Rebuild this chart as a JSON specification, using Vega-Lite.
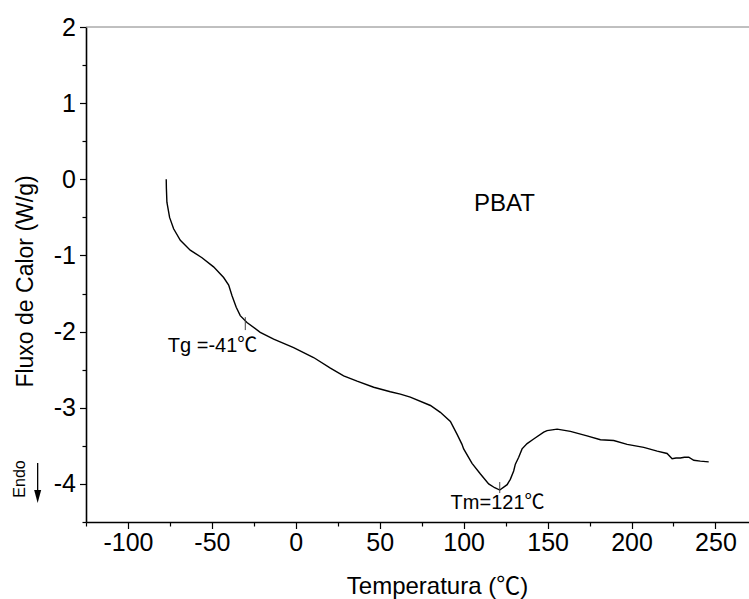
{
  "$schema": "https://vega.github.io/schema/vega-lite/v6.json",
  "width": 663,
  "height": 495,
  "autosize": {"type": "none"},
  "padding": {"left": 86, "top": 27, "right": 0, "bottom": 77},
  "background": "white",
  "config": {"view": {"stroke": null}},
  "resolve": {"axis": {"y": "independent"}},
  "datasets": {
    "curve": [
      {"T": -77.2, "v": 0.0}, {"T": -77.1, "v": -0.12}, {"T": -76.8, "v": -0.3}, {"T": -75.2, "v": -0.5},
      {"T": -72.8, "v": -0.65}, {"T": -68.8, "v": -0.8}, {"T": -62.9, "v": -0.93}, {"T": -55.9, "v": -1.03},
      {"T": -49.0, "v": -1.15}, {"T": -43.0, "v": -1.29}, {"T": -40.0, "v": -1.39}, {"T": -38.0, "v": -1.53},
      {"T": -35.5, "v": -1.68}, {"T": -33.1, "v": -1.79}, {"T": -29.1, "v": -1.88}, {"T": -21.2, "v": -2.01},
      {"T": -13.2, "v": -2.1}, {"T": -1.3, "v": -2.21}, {"T": 10.6, "v": -2.34}, {"T": 20.6, "v": -2.48},
      {"T": 28.5, "v": -2.58}, {"T": 36.5, "v": -2.65}, {"T": 46.4, "v": -2.73}, {"T": 56.3, "v": -2.79},
      {"T": 62.3, "v": -2.82}, {"T": 68.2, "v": -2.86}, {"T": 80.2, "v": -2.97}, {"T": 86.1, "v": -3.06},
      {"T": 92.1, "v": -3.18}, {"T": 96.1, "v": -3.35}, {"T": 99.0, "v": -3.48}, {"T": 100.0, "v": -3.54},
      {"T": 105.0, "v": -3.73}, {"T": 110.0, "v": -3.87}, {"T": 114.9, "v": -4.0}, {"T": 118.5, "v": -4.05},
      {"T": 121.5, "v": -4.08}, {"T": 125.9, "v": -4.01}, {"T": 127.8, "v": -3.94}, {"T": 129.8, "v": -3.83},
      {"T": 130.8, "v": -3.74}, {"T": 132.8, "v": -3.65}, {"T": 134.8, "v": -3.54}, {"T": 137.8, "v": -3.47},
      {"T": 141.7, "v": -3.41}, {"T": 147.7, "v": -3.32}, {"T": 149.7, "v": -3.3}, {"T": 155.7, "v": -3.28},
      {"T": 163.6, "v": -3.31}, {"T": 173.5, "v": -3.37}, {"T": 181.5, "v": -3.42}, {"T": 189.4, "v": -3.43},
      {"T": 197.4, "v": -3.48}, {"T": 207.3, "v": -3.52}, {"T": 215.3, "v": -3.57}, {"T": 221.2, "v": -3.6},
      {"T": 224.2, "v": -3.67}, {"T": 226.5, "v": -3.66}, {"T": 229.1, "v": -3.66}, {"T": 231.5, "v": -3.65},
      {"T": 234.1, "v": -3.65}, {"T": 237.1, "v": -3.69}, {"T": 241.0, "v": -3.7}, {"T": 246.0, "v": -3.71}
    ],
    "markers": [
      {"T": -30.1, "v": -1.81, "v2": -1.98},
      {"T": 121.5, "v": -3.975, "v2": -4.12}
    ],
    "labels": [
      {"T": -49.6, "v": -2.268, "text": "Tg =-41℃"},
      {"T": 120.2, "v": -4.329, "text": "Tm=121℃"}
    ],
    "title": [{"T": 124.3, "v": -0.416, "text": "PBAT"}],
    "endo": [{"T": -161.2, "v": -3.935, "text": "Endo"}],
    "arrow": [{"T": -153.8, "v": -3.725, "v2": -4.1}],
    "head": [{"T": -153.8, "v": -4.165}],
    "frame": [{"v": 2}]
  },
  "layer": [
    {
      "data": {"name": "curve"},
      "mark": {"type": "line", "color": "black", "strokeWidth": 1.4},
      "encoding": {
        "x": {
          "field": "T", "type": "quantitative",
          "scale": {"domain": [-125, 270], "nice": false, "zero": false},
          "axis": {
            "title": "Temperatura (℃)",
            "titleFont": "Liberation Sans, Noto Sans CJK SC",
            "titleFontSize": 24, "titleFontWeight": "normal", "titleColor": "black",
            "titleX": 351, "titleY": 71, "titleBaseline": "alphabetic", "titleAnchor": null, "titleAlign": "center",
            "values": [-125, -100, -75, -50, -25, 0, 25, 50, 75, 100, 125, 150, 175, 200, 225, 250],
            "labelExpr": "datum.value % 50 === 0 ? '' + datum.value : ''",
            "labelFont": "Liberation Sans", "labelFontSize": 25, "labelColor": "black",
            "labelPadding": 2, "labelOverlap": false, "labelFlush": false,
            "tickSize": {"condition": {"test": "datum.value % 50 === 0", "value": 6.5}, "value": 4},
            "tickColor": "black", "tickWidth": 1.2,
            "domainColor": "black", "domainWidth": 1.6, "grid": false
          }
        },
        "y": {
          "field": "v", "type": "quantitative",
          "scale": {"domain": [-4.5, 2], "nice": false, "zero": false},
          "axis": {
            "orient": "left",
            "title": "Fluxo de Calor (W/g)",
            "titleFont": "Liberation Sans", "titleFontSize": 23, "titleFontWeight": "normal", "titleColor": "black",
            "titleX": -54, "titleY": 254, "titleBaseline": "alphabetic", "titleAngle": -90, "titleAlign": "center", "titleAnchor": null,
            "values": [-4, -3, -2, -1, 0, 1, 2],
            "labelExpr": "'' + datum.value",
            "labelFont": "Liberation Sans", "labelFontSize": 25, "labelColor": "black",
            "labelPadding": 4, "labelOverlap": false, "labelFlush": false,
            "tickSize": 6.5, "tickColor": "black", "tickWidth": 1.2,
            "domainColor": "black", "domainWidth": 1.6, "grid": false
          }
        }
      }
    },
    {
      "data": {"name": "frame"},
      "mark": {"type": "rule", "color": "#808080", "strokeWidth": 1},
      "encoding": {
        "y": {
          "field": "v", "type": "quantitative",
          "scale": {"domain": [-4.5, 2], "nice": false, "zero": false},
          "axis": {
            "orient": "left", "title": null, "labels": false, "domain": false, "grid": false,
            "values": [-4.5, -3.5, -2.5, -1.5, -0.5, 0.5, 1.5],
            "tickSize": 4, "tickColor": "black", "tickWidth": 1.2
          }
        }
      }
    },
    {
      "data": {"name": "markers"},
      "mark": {"type": "rule", "color": "#444444", "strokeWidth": 1},
      "encoding": {
        "x": {"field": "T", "type": "quantitative", "scale": {"domain": [-125, 270], "nice": false, "zero": false}},
        "y": {"field": "v", "type": "quantitative", "scale": {"domain": [-4.5, 2], "nice": false, "zero": false}, "axis": null},
        "y2": {"field": "v2"}
      }
    },
    {
      "data": {"name": "labels"},
      "mark": {"type": "text", "font": "Liberation Sans, Noto Sans CJK SC", "fontSize": 20, "color": "black", "align": "center", "baseline": "alphabetic"},
      "encoding": {
        "x": {"field": "T", "type": "quantitative", "scale": {"domain": [-125, 270], "nice": false, "zero": false}},
        "y": {"field": "v", "type": "quantitative", "scale": {"domain": [-4.5, 2], "nice": false, "zero": false}, "axis": null},
        "text": {"field": "text"}
      }
    },
    {
      "data": {"name": "title"},
      "mark": {"type": "text", "font": "Liberation Sans", "fontSize": 24, "color": "black", "align": "center", "baseline": "alphabetic"},
      "encoding": {
        "x": {"field": "T", "type": "quantitative", "scale": {"domain": [-125, 270], "nice": false, "zero": false}},
        "y": {"field": "v", "type": "quantitative", "scale": {"domain": [-4.5, 2], "nice": false, "zero": false}, "axis": null},
        "text": {"field": "text"}
      }
    },
    {
      "data": {"name": "endo"},
      "mark": {"type": "text", "font": "Liberation Sans", "fontSize": 16, "color": "black", "align": "center", "baseline": "alphabetic", "angle": 270},
      "encoding": {
        "x": {"field": "T", "type": "quantitative", "scale": {"domain": [-125, 270], "nice": false, "zero": false}},
        "y": {"field": "v", "type": "quantitative", "scale": {"domain": [-4.5, 2], "nice": false, "zero": false}, "axis": null},
        "text": {"field": "text"}
      }
    },
    {
      "data": {"name": "arrow"},
      "mark": {"type": "rule", "color": "black", "strokeWidth": 1.3},
      "encoding": {
        "x": {"field": "T", "type": "quantitative", "scale": {"domain": [-125, 270], "nice": false, "zero": false}},
        "y": {"field": "v", "type": "quantitative", "scale": {"domain": [-4.5, 2], "nice": false, "zero": false}, "axis": null},
        "y2": {"field": "v2"}
      }
    },
    {
      "data": {"name": "head"},
      "mark": {"type": "point", "shape": "M-0.54,-1L0.54,-1L0,1Z", "size": 169, "filled": true, "color": "black", "opacity": 1},
      "encoding": {
        "x": {"field": "T", "type": "quantitative", "scale": {"domain": [-125, 270], "nice": false, "zero": false}},
        "y": {"field": "v", "type": "quantitative", "scale": {"domain": [-4.5, 2], "nice": false, "zero": false}, "axis": null}
      }
    }
  ]
}
